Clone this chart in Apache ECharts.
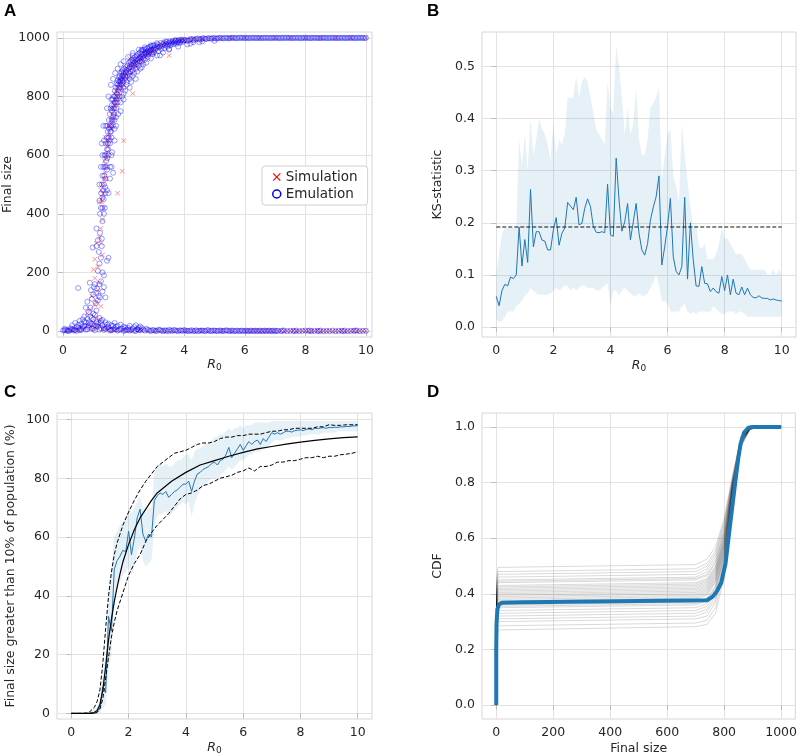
<!DOCTYPE html>
<html><head><meta charset="utf-8">
<script src="https://cdn.jsdelivr.net/npm/echarts@6/dist/echarts.min.js"></script>
<style>html,body{margin:0;padding:0;background:#fff}#c{width:800px;height:756px}</style>
</head><body><div id="c"></div>
<script>
// ---------- Panel A: scatter (R0, final size) ----------
const simPoints = [
 [0.1,1],[0.3,3],[0.5,6],[0.7,10],[0.9,15],[1.0,30],[1.1,45],[1.2,20],[1.3,8],[1.5,5],[1.7,3],[2.0,2],[2.3,1],[2.6,2],[3.0,0],[3.3,1],[3.6,0],[4.0,1],[4.3,0],[4.6,1],[5.0,0],[5.3,1],[5.6,0],[6.0,1],[6.2,0],[6.4,1],[6.6,0],[6.8,1],[7.0,0],[7.2,1],[7.4,0],[7.6,1],[7.8,0],[8.0,1],[8.2,0],[8.4,1],[8.6,0],[8.8,1],[9.0,0],[9.2,1],[9.4,0],[9.6,1],[9.8,0],[10,1],
 [0.2,2],[0.4,5],[0.6,12],[0.8,20],[1.0,8],[1.1,15],[1.2,40],[1.4,10],[1.6,6],[1.8,4],[2.2,1],[2.5,3],[2.8,0],[3.1,2],[3.4,0],[3.8,1],[4.1,0],[4.5,2],[4.8,0],[5.2,1],[5.5,0],[5.8,1],[6.1,0],[6.3,2],[6.5,0],[6.7,1],[6.9,0],[7.1,1],[7.3,0],[7.5,1],[7.7,0],[7.9,1],[8.1,0],[8.3,1],[8.5,0],[8.7,1],[8.9,0],[9.1,1],[9.3,0],[9.5,1],[9.7,0],[9.9,1],
 [0.8,60],[0.9,75],[1.05,90],[1.15,140],[1.2,165],[1.25,85],[0.95,120],[1.05,180],[1.1,100],[1.3,260],[1.25,300],
 [1.0,210],[1.05,245],[1.1,300],[1.15,220],[1.2,320],[1.25,350],[1.3,380],[1.2,440],[1.3,455],[1.35,420],[1.8,470],[1.95,545],[2.0,650],[1.4,660],[1.45,590],
 [1.35,520],[1.4,560],[1.45,610],[1.5,650],[1.55,700],[1.6,740],[1.65,720],[1.7,770],[1.75,790],[1.8,815],[1.85,800],[1.9,840],[1.95,830],[2.0,860],[2.1,875],[2.2,890],[2.3,905],[2.4,915],[2.5,925],[2.6,935],[2.7,942],[2.8,950],[2.9,955],[3.0,960],[3.2,970],[3.4,978],[3.5,940],[3.6,983],[3.8,988],[4.0,991],[4.3,995],[4.6,997],[5.0,999],[2.3,810],[2.2,930],[1.6,690],[1.7,810],
 [1.25,480],[1.3,500],[1.38,540],[1.42,600],[1.48,630],[1.52,670],[1.58,720],[1.62,700],[1.68,760],[1.72,780],[1.78,800],[1.82,830],[1.88,845],[1.92,855],[1.98,870],[2.05,880],[2.15,885],[2.25,900],[2.35,910],[2.45,920],[2.55,930],[2.65,938],[2.75,946],[2.85,952],[2.95,958],[3.1,965],[3.3,974],[3.5,980],[3.7,985],[3.9,990],[4.1,993],[4.4,996],[4.8,998],[5.2,999],[5.6,1000],[6.0,1000],[6.5,1000],[7,1000],[7.5,1000],[8,1000],[8.5,1000],[9,1000],[9.5,1000],[10,1000],
 [1.28,440],[1.33,470],[1.36,580],[1.41,520],[1.44,640],[1.5,700],[1.56,660],[1.6,760],[1.66,780],[1.7,740],[1.76,820],[1.8,770],[1.86,860],[1.9,820],[1.96,880],[2.0,840],[2.08,895],[2.12,860],[2.2,910],[2.28,880],[2.35,925],[2.42,900],[2.5,940],[2.6,915],[2.7,955],[2.8,935],[2.9,965],[3.0,945],[3.15,975],[3.35,982],[3.6,988],[3.85,993],[4.2,997],[4.6,999],[5.5,1000]
];
const emuPoints = [
 [0,2],[0.1,5],[0.2,1],[0.3,8],[0.4,3],[0.5,12],[0.6,4],[0.7,18],[0.8,6],[0.9,25],[1.0,9],[1.1,30],[1.2,5],[1.3,20],[1.4,8],[1.5,14],[1.6,3],[1.7,10],[1.8,2],[1.9,7],[2.0,1],[2.1,5],[2.2,2],[2.3,8],[2.4,1],[2.5,4],[2.6,10],[2.7,2],[2.8,5],[2.9,1],[3.0,3],[3.1,1],[3.2,4],[3.3,0],[3.4,2],[3.5,5],[3.6,1],[3.7,3],[3.8,0],[3.9,2],[4.0,4],[4.1,1],[4.2,2],[4.3,0],[4.4,3],[4.5,1],[4.6,2],[4.7,0],[4.8,3],[4.9,1],[5.0,2],[5.1,0],[5.2,2],[5.3,1],[5.4,3],[5.5,0],[5.6,2],[5.7,1],[5.8,0],[5.9,2],[6.0,1],[6.1,0],[6.2,2],[6.3,1],[6.4,0],[6.5,2],[6.6,1],[6.7,0],[6.8,2],[6.9,1],[7.0,0],[7.1,1],[7.3,2],[7.4,0],[7.5,1],[7.7,2],[7.8,0],[7.9,1],[8.0,2],[8.2,0],[8.3,1],[8.5,2],[8.6,0],[8.7,1],[8.9,2],[9.0,0],[9.1,1],[9.3,2],[9.4,0],[9.5,1],[9.7,2],[9.8,0],[9.9,1],[10,1],
 [0.05,3],[0.15,0],[0.25,4],[0.35,6],[0.45,1],[0.55,3],[0.65,9],[0.75,5],[0.85,20],[0.95,8],[1.05,3],[1.15,25],[1.25,10],[1.35,4],[1.45,12],[1.55,2],[1.65,6],[1.75,15],[1.85,4],[1.95,9],[2.05,3],[2.15,11],[2.25,5],[2.35,1],[2.45,7],[2.55,3],[2.65,5],[2.75,8],[2.85,2],[2.95,4],[3.05,1],[3.15,5],[3.25,2],[3.35,3],[3.45,0],[3.55,2],[3.65,4],[3.75,1],[3.85,3],[3.95,1],[4.05,2],[4.15,0],[4.25,3],[4.35,1],[4.45,0],[4.55,2],[4.65,1],[4.75,3],[4.85,0],[4.95,2],[5.05,1],[5.15,2],[5.25,0],[5.35,2],[5.45,1],[5.55,2],[5.65,0],[5.75,2],[5.85,1],[5.95,0],[6.05,2],[6.15,1],[6.25,0],[6.35,2],[6.45,1],[6.55,0],[6.65,2],[6.75,1],[6.85,0],[6.95,2],[7.05,1],[7.2,0],[7.25,2],[7.6,1],[7.65,0],[8.1,1],[8.15,2],[8.4,0],[8.45,1],[8.8,0],[9.2,1],[9.25,0],[9.6,1],[9.65,2],
 [0.05,8],[0.15,3],[0.25,10],[0.35,2],[0.45,15],[0.55,7],[0.6,25],[0.65,40],[0.75,30],[0.85,12],[0.95,45],[1.05,20],[1.15,15],[1.25,35],[1.35,10],[1.45,22],[1.55,5],[1.65,18],[1.75,6],[2.05,12],[2.15,4],[2.35,14],[2.45,6],[2.55,16],[1.0,60],[0.9,80],[0.85,65],[1.1,70],
 [0.3,20],[0.4,28],[0.5,22],[0.55,35],[0.65,15],[0.7,32],[0.8,42],[0.85,30],[0.9,50],[0.95,25],[1.0,40],[1.05,55],[1.1,18],[1.2,45],[1.25,28],[1.3,38],[1.4,30],[1.5,25],[1.6,20],[1.7,28],[1.8,18],[1.9,22],[2.0,15],[2.2,18],[2.4,20],[2.5,12],
 [0.5,147],[0.8,100],[0.88,165],[0.92,140],[0.95,110],[1.0,125],[1.02,150],[1.05,160],[1.08,95],[1.1,130],[1.12,145],[1.15,105],[1.18,120],[1.2,160],[1.22,115],[1.25,170],[1.3,135],[1.35,150],[1.4,115],[0.98,285],[1.1,290],[1.18,270],[1.2,230],[1.25,250],[1.45,240],[1.5,250],[1.15,310],[1.22,335],[1.1,350],[1.28,315],[1.3,200],[1.35,190],[0.7,50],[0.75,80],[1.15,205],[1.28,290],[1.3,375],[1.4,470],[1.35,400],
 [1.2,445],[1.25,420],[1.3,455],[1.3,530],[1.32,480],[1.35,500],[1.38,560],[1.4,520],[1.4,600],[1.42,580],[1.45,620],[1.45,550],[1.48,640],[1.5,600],[1.5,660],[1.52,690],[1.55,640],[1.55,700],[1.58,680],[1.6,720],[1.6,660],[1.62,750],[1.65,700],[1.65,760],[1.68,740],[1.7,780],[1.7,720],[1.72,800],[1.75,760],[1.78,810],[1.8,780],[1.8,840],[1.82,820],[1.85,850],[1.85,800],[1.88,830],[1.9,860],[1.92,840],[1.95,870],[1.98,850],[2.0,880],[2.0,830],[1.5,470],[1.55,520],[1.65,540],[1.45,700],[1.6,790],[2.0,790],[1.9,750],
 [1.22,400],[1.26,470],[1.28,500],[1.3,420],[1.33,560],[1.34,450],[1.36,530],[1.37,600],[1.39,490],[1.41,640],[1.43,560],[1.44,660],[1.46,590],[1.47,680],[1.49,620],[1.51,720],[1.53,650],[1.54,740],[1.56,680],[1.57,760],[1.59,700],[1.61,770],[1.63,720],[1.64,790],[1.66,730],[1.67,800],[1.69,760],[1.71,820],[1.73,780],[1.74,830],[1.76,790],[1.77,845],[1.79,800],[1.81,855],[1.83,830],[1.84,865],[1.86,840],[1.87,870],[1.89,850],[1.91,880],[1.93,860],[1.94,885],[1.96,855],[1.97,890],[1.99,870],[1.6,600],[1.45,480],[1.38,420],
 [1.3,600],[1.6,560],[1.35,650],[1.62,610],[1.4,700],[1.7,650],[1.45,760],[1.75,700],[1.5,800],[1.82,740],[1.58,840],[1.9,780],[1.65,860],[2.0,810],[1.72,880],[2.1,840],[1.8,895],[2.2,860],[1.9,910],[2.3,870],[2.0,920],[2.45,885],[2.15,935],[2.6,900],[2.3,948],[2.75,915],[2.5,960],[2.9,930],[2.7,968],[3.1,940],[2.9,975],[3.3,950],[3.1,982],[3.5,962],[3.4,988],[3.8,970],[3.7,992],[4.1,978],[4.3,985],[4.6,988],[1.55,560],[1.25,560],[1.2,500],[1.28,640],[1.33,700],[1.7,690],[1.75,730],[1.95,800],[2.05,820],[2.25,850],[2.35,880],[2.55,895],[2.65,910],
 [2.05,870],[2.1,890],[2.1,850],[2.15,880],[2.2,900],[2.2,870],[2.25,910],[2.3,890],[2.3,920],[2.35,905],[2.4,925],[2.4,895],[2.45,915],[2.5,930],[2.5,905],[2.55,935],[2.6,920],[2.6,945],[2.65,930],[2.7,950],[2.7,925],[2.75,945],[2.8,955],[2.8,935],[2.85,950],[2.9,960],[2.95,945],[3.0,965],[3.0,950],[2.3,940],[2.4,860],[2.6,960],[2.2,830],
 [2.02,895],[2.04,860],[2.07,880],[2.08,900],[2.12,870],[2.13,905],[2.17,895],[2.18,915],[2.22,885],[2.23,920],[2.27,900],[2.28,925],[2.32,910],[2.33,930],[2.37,915],[2.38,935],[2.42,910],[2.43,940],[2.47,925],[2.48,945],[2.52,920],[2.53,950],[2.57,930],[2.58,955],[2.62,935],[2.63,958],[2.67,940],[2.68,960],[2.72,945],[2.73,962],[2.77,950],[2.78,965],[2.82,945],[2.83,968],[2.87,955],[2.88,970],[2.92,950],[2.93,972],[2.97,958],[2.98,974],
 [3.05,960],[3.1,970],[3.15,955],[3.2,972],[3.25,962],[3.3,978],[3.35,965],[3.4,980],[3.45,970],[3.5,984],[3.55,975],[3.6,986],[3.65,978],[3.7,988],[3.75,980],[3.8,990],[3.85,983],[3.9,992],[3.95,986],[4.0,993],[3.2,940],[3.5,960],
 [3.02,975],[3.07,965],[3.12,978],[3.17,968],[3.22,982],[3.27,972],[3.32,984],[3.37,975],[3.42,986],[3.47,978],[3.52,988],[3.57,980],[3.62,990],[3.67,983],[3.72,991],[3.77,985],[3.82,993],[3.87,987],[3.92,994],[3.97,990],
 [4.1,990],[4.2,995],[4.3,992],[4.4,997],[4.5,994],[4.6,998],[4.7,996],[4.8,999],[4.9,997],[5.0,999],[5.1,998],[5.2,1000],[5.3,998],[5.4,1000],[5.5,999],[5.6,1000],[5.7,999],[5.8,1000],[5.9,1000],[6.0,999],[6.1,1000],[6.2,1000],[6.3,1000],[6.4,999],[6.5,1000],[6.6,1000],[6.7,1000],[6.8,1000],[6.9,1000],[7.0,1000],[7.1,1000],[7.2,1000],[7.3,1000],[7.4,1000],[7.5,1000],[7.6,1000],[7.7,1000],[7.8,1000],[7.9,1000],[8.0,1000],[8.1,1000],[8.2,1000],[8.3,1000],[8.4,1000],[8.5,1000],[8.6,1000],[8.7,1000],[8.8,1000],[8.9,1000],[9.0,1000],[9.1,1000],[9.2,1000],[9.3,1000],[9.4,1000],[9.5,1000],[9.6,1000],[9.7,1000],[9.8,1000],[9.9,1000],[10,1000],[4.5,985],[5.0,990],[4.2,980],
 [4.05,993],[4.15,991],[4.25,996],[4.35,994],[4.45,998],[4.55,995],[4.65,999],[4.75,997],[4.85,998],[4.95,1000],[5.05,998],[5.15,1000],[5.25,999],[5.35,1000],[5.45,998],[5.55,1000],[5.65,1000],[5.75,999],[5.85,1000],[5.95,1000],[6.05,1000],[6.15,999],[6.25,1000],[6.35,1000],[6.45,1000],[6.55,999],[6.65,1000],[6.75,1000],[6.85,999],[6.95,1000],[7.05,1000],[7.15,999],[7.25,1000],[7.35,1000],[7.45,1000],[7.55,999],[7.65,1000],[7.75,1000],[7.85,999],[7.95,1000],[8.05,1000],[8.15,999],[8.25,1000],[8.35,1000],[8.45,999],[8.55,1000],[8.65,1000],[8.75,999],[8.85,1000],[8.95,1000],[9.05,999],[9.15,1000],[9.25,1000],[9.35,999],[9.45,1000],[9.55,1000],[9.65,999],[9.75,1000],[9.85,1000],[9.95,999]
];

// ---------- shared R0 grid for panels B and C ----------
const r0Grid = [0,0.1,0.2,0.3,0.4,0.5,0.6,0.7,0.8,0.9,1,1.1,1.2,1.3,1.4,1.5,1.6,1.7,1.8,1.9,2,2.1,2.2,2.3,2.4,2.5,2.6,2.7,2.8,2.9,3,3.1,3.2,3.3,3.4,3.5,3.6,3.7,3.8,3.9,4,4.1,4.2,4.3,4.4,4.5,4.6,4.7,4.8,4.9,5,5.1,5.2,5.3,5.4,5.5,5.6,5.7,5.8,5.9,6,6.1,6.2,6.3,6.4,6.5,6.6,6.7,6.8,6.9,7,7.1,7.2,7.3,7.4,7.5,7.6,7.7,7.8,7.9,8,8.1,8.2,8.3,8.4,8.5,8.6,8.7,8.8,8.9,9,9.1,9.2,9.3,9.4,9.5,9.6,9.7,9.8,9.9,10];

// ---------- Panel B: KS statistic ----------
const ksMean = [0.059,0.041,0.070,0.082,0.079,0.096,0.093,0.100,0.192,0.117,
 0.168,0.124,0.264,0.154,0.183,0.183,0.167,0.165,0.148,0.148,
 0.186,0.210,0.157,0.180,0.190,0.239,0.232,0.225,0.249,0.196,
 0.199,0.228,0.246,0.231,0.193,0.182,0.181,0.183,0.181,0.274,
 0.177,0.174,0.324,0.244,0.184,0.202,0.237,0.167,0.202,0.237,
 0.180,0.148,0.138,0.160,0.205,0.230,0.250,0.290,0.119,0.154,
 0.193,0.247,0.135,0.107,0.100,0.116,0.249,0.092,0.200,0.129,
 0.079,0.078,0.116,0.084,0.083,0.068,0.075,0.068,0.065,0.097,
 0.070,0.100,0.062,0.092,0.065,0.062,0.077,0.062,0.075,0.062,
 0.057,0.056,0.060,0.056,0.055,0.055,0.052,0.054,0.052,0.051,
 0.050];
const ksLow = [0.015,0.010,0.012,0.020,0.030,0.030,0.030,0.040,0.045,0.050,
 0.060,0.065,0.075,0.070,0.065,0.062,0.062,0.062,0.062,0.065,
 0.070,0.075,0.070,0.075,0.080,0.080,0.070,0.075,0.070,0.075,
 0.080,0.080,0.075,0.075,0.075,0.070,0.070,0.075,0.080,0.085,
 0.040,0.070,0.070,0.060,0.070,0.075,0.070,0.065,0.060,0.060,
 0.065,0.060,0.060,0.065,0.075,0.085,0.100,0.080,0.050,0.050,
 0.045,0.030,0.030,0.030,0.030,0.040,0.045,0.030,0.025,0.030,
 0.025,0.030,0.030,0.030,0.030,0.030,0.040,0.035,0.030,0.025,
 0.025,0.030,0.030,0.030,0.025,0.030,0.030,0.025,0.020,0.020,
 0.020,0.020,0.020,0.020,0.020,0.020,0.020,0.020,0.020,0.020,
 0.020];
const ksHigh = [0.10,0.14,0.18,0.19,0.19,0.19,0.19,0.19,0.36,0.31,
 0.37,0.30,0.40,0.33,0.36,0.40,0.38,0.37,0.35,0.32,
 0.39,0.33,0.36,0.35,0.37,0.44,0.44,0.44,0.48,0.44,
 0.47,0.48,0.47,0.44,0.41,0.38,0.37,0.36,0.35,0.47,
 0.42,0.41,0.54,0.50,0.44,0.37,0.42,0.37,0.39,0.46,
 0.36,0.33,0.33,0.36,0.42,0.43,0.44,0.46,0.28,0.33,
 0.37,0.38,0.29,0.27,0.24,0.39,0.33,0.28,0.23,0.19,
 0.20,0.155,0.15,0.16,0.13,0.13,0.13,0.14,0.16,0.19,
 0.17,0.17,0.16,0.15,0.14,0.14,0.14,0.13,0.12,0.11,
 0.11,0.11,0.11,0.11,0.11,0.10,0.10,0.11,0.10,0.11,
 0.10];
const ksThreshold = 0.192;
const ksThresholdRange = [0, 10];

// ---------- Panel C: % final size > 10% ----------
const cMean = [0,0,0,0,0,0,0,0,0,0.5,
 2,9,7,33,28,49,52,53.5,55.5,55,
 62,54,59.5,66.5,69.5,61,58.5,61,60,72.5,
 74,75,74.5,75.5,73.5,74.5,75.5,76,77,78,
 78,79,75.5,79,81.5,82,83,83.5,84,85,
 85.5,84.5,86,86.5,88,90.5,87,88.5,90,91.5,
 89.5,91,92.5,91.5,92.5,93,91.5,93.5,92.5,94,
 95.5,95,95.5,95,95.5,96,96,95.7,96.2,96.3,
 96.5,96.2,96.6,96.8,96.5,97,96.9,97.1,97.2,97,
 97.3,97.2,97.4,97.3,97.5,97.5,97.6,97.6,97.8,97.8,
 97.9];
const cLow = [0,0,0,0,0,0,0,0,0,0,
 0,2,3,15,20,38,42,45,47,48,
 50,47,50,55,57,52,50,51,52,64,
 67,68,68,69,67,68,69,70,71,72,
 71,72,67,71,74,76,77,78,79,80,
 80,80,81,82,83,84,83,84,85,86,
 86,87,88,88,89,89,89,90,90,91,
 92,93,93,93,93,93.5,93.5,94,94,94,
 94.5,94.5,94.5,95,95,95,95,95,95.5,95.5,
 95.5,95.5,95.5,96,96,96,96,96,96,96,
 96];
const cHigh = [0,0,0,0,0,0,0.5,1,1.5,2,
 5,14,20,42,50,60,62,64,65,66,
 70,68,70,72,74,70,68,70,70,82,
 84,85,84,85,84,84,85,86,86,87,
 88,88,86,89,90,90,91,92,92,93,
 94,94,95,95,96,97,96,97,97,98,
 97,98,98,98,99,99,99,99,99,99,
 99.5,99.5,99.5,99.5,99.5,99.5,99.5,99.5,99.5,99.5,
 99.5,99.5,99.5,99.5,99.5,99.5,99.5,99.5,99.5,99.5,
 99.5,99.5,99.5,99.5,99.5,99.5,99.5,99.5,99.5,99.5,
 99.5];
const cTheory = [[0,0],[0.6,0],[0.8,0.3],[0.9,1],[1.0,3],[1.1,8],[1.2,16],[1.3,25],[1.4,32],[1.5,38],[1.6,43],[1.7,47.5],[1.8,51.5],[1.9,54.5],[2.0,57.5],[2.2,62.5],[2.4,66.5],[2.6,69.5],[2.8,72.5],[3.0,75],[3.5,79],[4.0,82],[4.5,84.5],[5.0,86],[5.5,87.5],[6.0,88.8],[6.5,90],[7.0,90.8],[7.5,91.6],[8.0,92.3],[8.5,92.9],[9.0,93.4],[9.5,93.8],[10,94.1]];
const cUpperDash = [[0,0],[0.2,0],[0.4,0],[0.6,0.2],[0.8,2],[0.9,4],[1.0,8],[1.1,17],[1.2,29],[1.3,40],[1.4,48],[1.5,54],[1.6,58],[1.8,64],[2.0,68.5],[2.2,72.5],[2.4,76],[2.6,79],[2.8,81.5],[3.0,84],[3.2,85.5],[3.4,87],[3.6,88.5],[3.8,89],[4.0,89.5],[4.2,90.5],[4.4,91.5],[4.6,92],[4.8,92],[5.0,92.5],[5.2,93.5],[5.4,94],[5.6,94],[5.8,94.5],[6.0,94.5],[6.2,95],[6.4,95],[6.6,95],[6.8,95.5],[7.0,96],[7.2,96],[7.4,96.5],[7.6,96.5],[7.8,97],[8.0,97],[8.2,97],[8.4,97],[8.6,97.5],[8.8,97.5],[9.0,98.2],[9.2,98],[9.4,98],[9.6,98.2],[9.8,98.2],[10,98.2]];
const cLowerDash = [[0,0],[0.2,0],[0.4,0],[0.6,0],[0.8,0],[0.9,0.3],[1.0,1.5],[1.1,5],[1.2,12],[1.3,19],[1.4,26],[1.5,31],[1.6,35],[1.8,41],[2.0,47],[2.2,51],[2.4,54],[2.6,58.5],[2.8,61.5],[3.0,64],[3.2,66],[3.4,68],[3.6,70.5],[3.8,73],[4.0,74.5],[4.2,75],[4.4,76],[4.6,77.5],[4.8,78],[5.0,79],[5.2,80],[5.4,80.5],[5.6,81],[5.8,82],[6.0,82.5],[6.2,83.5],[6.4,82.5],[6.6,84],[6.8,84],[7.0,84.5],[7.2,85.5],[7.4,85.5],[7.6,86],[7.8,86],[8.0,86.5],[8.2,87],[8.4,87],[8.6,87.5],[8.8,87],[9.0,87.5],[9.2,87.5],[9.4,88],[9.6,88.2],[9.8,88.5],[10,89]];

// ---------- Panel D: CDFs ----------
const cdfX = [0, 1, 6, 700, 740, 770, 800, 830, 860, 890, 920, 1000];
const cdfEmuRows = [
 [0,0.22,0.27,0.282,0.29,0.33,0.46,0.74,0.93,0.99,1,1],
 [0,0.24,0.285,0.295,0.305,0.35,0.48,0.75,0.935,0.99,1,1],
 [0,0.25,0.30,0.31,0.32,0.37,0.50,0.76,0.94,0.992,1,1],
 [0,0.26,0.31,0.32,0.335,0.38,0.50,0.75,0.93,0.99,1,1],
 [0,0.27,0.32,0.33,0.345,0.39,0.51,0.76,0.94,0.993,1,1],
 [0,0.28,0.33,0.34,0.355,0.40,0.52,0.77,0.945,0.994,1,1],
 [0,0.29,0.34,0.35,0.365,0.41,0.53,0.76,0.94,0.99,1,1],
 [0,0.30,0.35,0.36,0.375,0.42,0.53,0.77,0.945,0.993,1,1],
 [0,0.31,0.355,0.365,0.38,0.425,0.54,0.77,0.94,0.992,1,1],
 [0,0.32,0.36,0.37,0.385,0.43,0.54,0.78,0.95,0.995,1,1],
 [0,0.33,0.37,0.38,0.395,0.44,0.55,0.77,0.945,0.993,1,1],
 [0,0.335,0.375,0.385,0.40,0.445,0.55,0.78,0.95,0.994,1,1],
 [0,0.34,0.38,0.39,0.405,0.45,0.56,0.78,0.95,0.995,1,1],
 [0,0.345,0.385,0.395,0.41,0.455,0.56,0.77,0.945,0.993,1,1],
 [0,0.35,0.39,0.40,0.415,0.46,0.57,0.78,0.95,0.994,1,1],
 [0,0.355,0.395,0.405,0.42,0.465,0.57,0.79,0.955,0.995,1,1],
 [0,0.36,0.40,0.41,0.425,0.47,0.58,0.78,0.95,0.994,1,1],
 [0,0.365,0.405,0.415,0.43,0.475,0.58,0.79,0.955,0.995,1,1],
 [0,0.37,0.41,0.42,0.435,0.48,0.59,0.79,0.95,0.994,1,1],
 [0,0.375,0.415,0.425,0.44,0.485,0.59,0.80,0.955,0.995,1,1],
 [0,0.38,0.42,0.43,0.445,0.49,0.60,0.79,0.95,0.994,1,1],
 [0,0.385,0.425,0.435,0.45,0.495,0.60,0.80,0.955,0.995,1,1],
 [0,0.39,0.43,0.44,0.455,0.50,0.61,0.80,0.96,0.996,1,1],
 [0,0.395,0.44,0.45,0.465,0.51,0.62,0.80,0.955,0.995,1,1],
 [0,0.40,0.445,0.455,0.47,0.515,0.62,0.81,0.96,0.996,1,1],
 [0,0.41,0.45,0.46,0.48,0.525,0.63,0.81,0.96,0.996,1,1],
 [0,0.42,0.46,0.47,0.49,0.535,0.64,0.81,0.96,0.996,1,1],
 [0,0.43,0.47,0.48,0.50,0.545,0.65,0.82,0.965,0.997,1,1],
 [0,0.44,0.48,0.49,0.51,0.555,0.66,0.82,0.965,0.997,1,1],
 [0,0.45,0.495,0.505,0.525,0.57,0.67,0.83,0.965,0.997,1,1]
];
const cdfSim = [[0,0],[0,0.2],[1,0.29],[4,0.345],[10,0.362],[20,0.368],[100,0.37],[740,0.377],[760,0.39],[775,0.41],[790,0.44],[805,0.51],[820,0.64],[839,0.80],[850,0.89],[858,0.94],[870,0.98],[885,0.997],[900,1],[1000,1]];

// ---------- tick labels ----------
const ticksR0 = [0,2,4,6,8,10];
const ticksFinal = [0,200,400,600,800,1000];
const ticksKS = [0,0.1,0.2,0.3,0.4,0.5];
const ticksPct = [0,20,40,60,80,100];
const ticksCDF = [0,0.2,0.4,0.6,0.8,1.0];

// ---------- build chart ----------
const FONT = 'DejaVu Sans';
const TXT = '#262626';
const BLUE = '#1f77b4';
const BAND = 'rgba(31,119,180,0.11)';
const XPATH = 'path://M0,1L1,0L5,4L9,0L10,1L6,5L10,9L9,10L5,6L1,10L0,9L4,5Z';
const r0Name = '{i|R}{s|0}';
const r0Rich = {
  i:{fontStyle:'italic', fontFamily:FONT, fontSize:12.5, color:TXT},
  s:{fontFamily:FONT, fontSize:9, color:TXT, padding:[6,0,0,0]}
};

function axis(idx, min, max, ticks, fmt, name, nameGap, rich) {
  return {
    type:'value', gridIndex:idx, min, max,
    axisLine:{show:false},
    axisTick:{show:true, length:5, lineStyle:{color:'#bdbdbd', width:1}, customValues:ticks},
    axisLabel:{color:TXT, fontFamily:FONT, fontSize:12.5, margin:7, customValues:ticks, formatter:fmt},
    splitLine:{show:true, lineStyle:{color:'#e2e2e2', width:1}},
    name, nameLocation:'middle', nameGap,
    nameTextStyle:Object.assign({color:TXT, fontFamily:FONT, fontSize:12.5}, rich ? {rich} : {})
  };
}
const f0 = v => String(v);
const f1 = v => v.toFixed(1);

const grids = [
  {left:57, top:32, width:315, height:305},
  {left:482, top:32, width:314, height:305},
  {left:57, top:413, width:315, height:306},
  {left:482, top:413, width:315, height:306}
].map(g => Object.assign(g, {show:true, borderColor:'#d6d6d6', borderWidth:1, backgroundColor:'transparent', containLabel:false}));

const xAxes = [
  axis(0, -0.2, 10.2, ticksR0, f0, r0Name, 19, r0Rich),
  axis(1, -0.5, 10.5, ticksR0, f0, r0Name, 21, r0Rich),
  axis(2, -0.5, 10.5, ticksR0, f0, r0Name, 21, r0Rich),
  axis(3, -50, 1050, ticksFinal, f0, 'Final size', 23)
];
const yAxes = [
  axis(0, -20, 1020, ticksFinal, f0, 'Final size', 40),
  axis(1, -0.019, 0.566, ticksKS, f1, 'KS-statistic', 38),
  axis(2, -1.9, 102.2, ticksPct, f0, 'Final size greater than 10% of population (%)', 40),
  axis(3, -0.05, 1.05, ticksCDF, f1, 'CDF', 38)
];

function lineS(idx, data, color, width, type, z) {
  return {type:'line', xAxisIndex:idx, yAxisIndex:idx, data, symbol:'none', silent:true,
    lineStyle:{color, width, type: type || 'solid'}, z: z || 3};
}
// shaded band between lo and hi drawn as one polygon through the axis scales
function bandS(idx, xs, lo, hi) {
  return {
    type:'custom', xAxisIndex:idx, yAxisIndex:idx, silent:true, z:1,
    data: xs.map((x,i)=>[x, lo[i], hi[i]]),
    encode:{x:0, y:[1,2]},
    renderItem(params, api) {
      if (params.dataIndex !== 0) return null;
      const pts = [];
      for (let i = 0; i < xs.length; i++) pts.push(api.coord([xs[i], hi[i]]));
      for (let i = xs.length - 1; i >= 0; i--) pts.push(api.coord([xs[i], lo[i]]));
      return {type:'polygon', shape:{points:pts}, style:{fill:BAND}};
    }
  };
}

const series = [];
series.push({type:'scatter', name:'Simulation', xAxisIndex:0, yAxisIndex:0, data:simPoints, symbol:XPATH, symbolSize:5,
  itemStyle:{color:'rgba(255,0,0,0.55)'}, silent:true, z:3});
series.push({type:'scatter', name:'Emulation', xAxisIndex:0, yAxisIndex:0, data:emuPoints, symbol:'circle', symbolSize:5,
  itemStyle:{color:'rgba(0,0,0,0)', borderColor:'rgba(0,0,255,0.55)', borderWidth:0.9}, silent:true, z:4});

series.push(bandS(1, r0Grid, ksLow, ksHigh));
series.push(lineS(1, r0Grid.map((x,i)=>[x, ksMean[i]]), BLUE, 1));
series.push(lineS(1, ksThresholdRange.map(x=>[x, ksThreshold]), '#111', 1.2, [4,2], 4));

series.push(bandS(2, r0Grid, cLow, cHigh));
series.push(lineS(2, r0Grid.map((x,i)=>[x, cMean[i]]), BLUE, 1));
series.push(lineS(2, cTheory, '#000', 1.2, 'solid', 4));
series.push(lineS(2, cUpperDash, '#000', 1, [4,2], 4));
series.push(lineS(2, cLowerDash, '#000', 1, [4,2], 4));

cdfEmuRows.forEach(row => series.push(lineS(3, cdfX.map((x,i)=>[x, row[i]]), 'rgba(0,0,0,0.15)', 1, 'solid', 2)));
series.push(lineS(3, cdfSim, BLUE, 4, 'solid', 5));

const panelLetter = (t, l, tp) => ({type:'text', left:l, top:tp, silent:true,
  style:{text:t, fontFamily:'Liberation Sans', fontWeight:'bold', fontSize:17, fill:'#000'}});

const chart = echarts.init(document.getElementById('c'), null, {renderer:'canvas'});
chart.setOption({
  animation:false,
  backgroundColor:'#fff',
  grid:grids, xAxis:xAxes, yAxis:yAxes,
  legend:{
    data:[
      {name:'Simulation', icon:XPATH, itemStyle:{color:'#ff0000', opacity:1}},
      {name:'Emulation', icon:'circle', itemStyle:{color:'rgba(0,0,0,0)', borderColor:'#0000dd', borderWidth:1.5, opacity:1}}
    ],
    orient:'vertical', left:262, top:166, itemWidth:8, itemHeight:8, itemGap:3,
    padding:[4,10,4,10], backgroundColor:'#fff', borderColor:'#d0d0d0', borderWidth:1, borderRadius:3,
    textStyle:{fontFamily:FONT, fontSize:13.5, color:TXT}, selectedMode:false
  },
  graphic:[panelLetter('A',4,3), panelLetter('B',427,3), panelLetter('C',4,384), panelLetter('D',427,384)],
  series
});
</script>
</body></html>
